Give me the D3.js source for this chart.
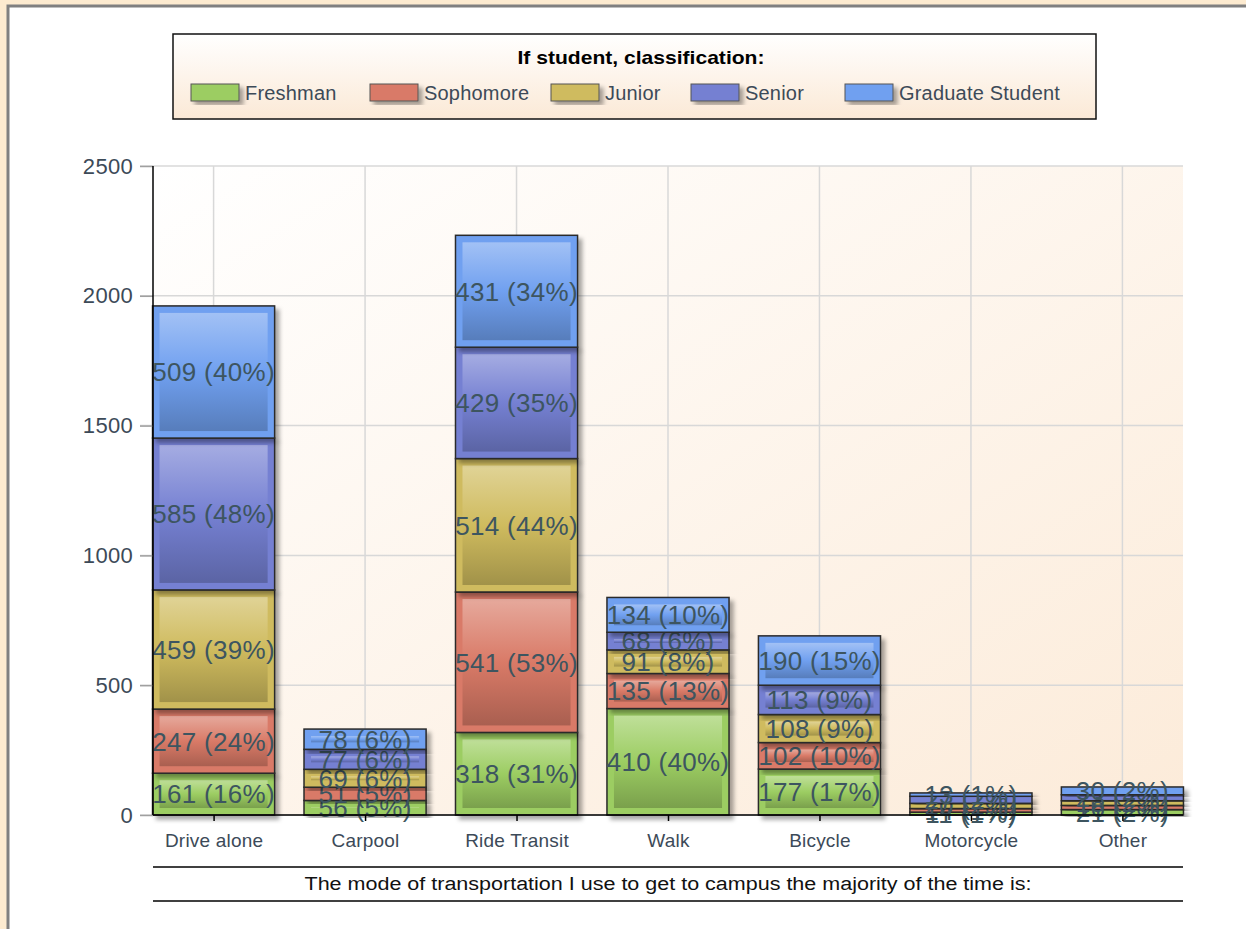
<!DOCTYPE html>
<html>
<head>
<meta charset="utf-8">
<script src="https://cdn.jsdelivr.net/npm/d3@7"></script>
<style>
  html, body { margin: 0; padding: 0; background: #fdebd0; }
  svg { display: block; font-family: Arial, "Liberation Sans", sans-serif; }
</style>
</head>
<body>
<div id="chart"></div>
<script>
// categorias del eje X
const modos = ["Drive alone", "Carpool", "Ride Transit", "Walk", "Bicycle", "Motorcycle", "Other"];
const clases = ["Freshman", "Sophomore", "Junior", "Senior", "Graduate Student"];

// valores por clase (mismo orden que modos)
const freshman  = [161, 56, 318, 410, 177, 11, 21];
const sophomore = [247, 51, 541, 135, 102, 14, 16];
const junior    = [459, 69, 514, 91, 108, 20, 18];
const senior    = [585, 77, 429, 68, 113, 27, 23];
const graduate  = [509, 78, 431, 134, 190, 13, 30];

// porcentajes tal como aparecen en las etiquetas
const pctFreshman  = [16, 5, 31, 40, 17, 1, 2];
const pctSophomore = [24, 5, 53, 13, 10, 1, 2];
const pctJunior    = [39, 6, 44, 8, 9, 2, 2];
const pctSenior    = [48, 6, 35, 6, 9, 2, 2];
const pctGraduate  = [40, 6, 34, 10, 15, 1, 2];

const yTicks = [0, 500, 1000, 1500, 2000, 2500];

const colores = ["#9ccd62", "#d97a67", "#cfbb5e", "#7580d2", "#70a0f0"];

const series = [freshman, sophomore, junior, senior, graduate];
const pcts = [pctFreshman, pctSophomore, pctJunior, pctSenior, pctGraduate];

const datos = modos.map((m, i) => {
    const row = { modo: m };
    clases.forEach((c, k) => { row[c] = series[k][i]; });
    return row;
});

const W = 1246, H = 929;
const svg = d3.select("#chart").append("svg")
    .attr("width", W).attr("height", H);

const defs = svg.append("defs");

// fondo del area de grafico
const bgGrad = defs.append("linearGradient").attr("id", "bg")
    .attr("x1", "0").attr("y1", "0").attr("x2", "1").attr("y2", "1");
bgGrad.append("stop").attr("offset", "0").attr("stop-color", "#ffffff");
bgGrad.append("stop").attr("offset", "1").attr("stop-color", "#fcebd9");

const legGrad = defs.append("linearGradient").attr("id", "legbg")
    .attr("x1", "0").attr("y1", "0").attr("x2", "0").attr("y2", "1");
legGrad.append("stop").attr("offset", "0").attr("stop-color", "#ffffff");
legGrad.append("stop").attr("offset", "1").attr("stop-color", "#fbe9d6");

// degradado interior de cada segmento
colores.forEach((c, k) => {
    const g = defs.append("linearGradient").attr("id", "seg" + k)
        .attr("x1", "0").attr("y1", "0").attr("x2", "0").attr("y2", "1");
    g.append("stop").attr("offset", "0").attr("stop-color", d3.interpolateRgb(c, "#ffffff")(0.35));
    g.append("stop").attr("offset", "0.5").attr("stop-color", c);
    g.append("stop").attr("offset", "1").attr("stop-color", d3.color(c).darker(0.7));
});

const sombra = defs.append("filter").attr("id", "sombra")
    .attr("x", "-10%").attr("y", "-10%").attr("width", "130%").attr("height", "130%");
sombra.append("feDropShadow").attr("dx", 4).attr("dy", 4).attr("stdDeviation", 2)
    .attr("flood-color", "#000").attr("flood-opacity", 0.35);

// marco exterior
svg.append("rect").attr("x", 0).attr("y", 0).attr("width", W).attr("height", H).attr("fill", "#fdebd0");
svg.append("rect").attr("x", 9).attr("y", 7).attr("width", W).attr("height", H)
    .attr("fill", "#ffffff");
svg.append("path").attr("d", `M8,${H} V6 H${W}`)
    .attr("fill", "none").attr("stroke", "#808080").attr("stroke-width", 3);

const margin = { top: 166, left: 153, right: W - 1183, bottom: H - 815 };
const width = W - margin.left - margin.right;
const height = H - margin.top - margin.bottom;

const g = svg.append("g").attr("transform", `translate(${margin.left},${margin.top})`);

const x = d3.scalePoint().domain(modos).range([0, width]).padding(0.4);
const step = x.step();
const barW = step * 0.806;

const y = d3.scaleLinear().domain([0, 2500]).range([height, 0]);

g.append("rect").attr("width", width).attr("height", height).attr("fill", "url(#bg)");

// rejilla
g.append("g").selectAll("line.h").data(yTicks).enter().append("line")
    .attr("x1", -13).attr("x2", width)
    .attr("y1", d => y(d)).attr("y2", d => y(d))
    .attr("stroke", "#d8d8d8").attr("stroke-width", 1.5);
g.append("g").selectAll("line.v").data(modos).enter().append("line")
    .attr("x1", d => x(d)).attr("x2", d => x(d))
    .attr("y1", 0).attr("y2", height)
    .attr("stroke", "#d8d8d8").attr("stroke-width", 1.5);

// barras apiladas
const stack = d3.stack().keys(clases)(datos);

const capas = g.selectAll(".capa").data(stack).enter().append("g")
    .attr("class", "capa");

capas.each(function(capa, k) {
    const sel = d3.select(this).selectAll("g").data(capa).enter().append("g");
    sel.append("rect")
        .attr("x", d => x(d.data.modo) - barW / 2)
        .attr("y", d => y(d[1]))
        .attr("width", barW)
        .attr("height", d => y(d[0]) - y(d[1]))
        .attr("fill", colores[k])
        .attr("stroke", "#2a2a2a").attr("stroke-width", 1.5)
        .attr("filter", "url(#sombra)");
    sel.append("rect")
        .attr("x", d => x(d.data.modo) - barW / 2 + 7)
        .attr("y", d => y(d[1]) + 7)
        .attr("width", barW - 14)
        .attr("height", d => Math.max(0, y(d[0]) - y(d[1]) - 14))
        .attr("fill", "url(#seg" + k + ")");
});

// ejes
const ejeY = g.append("g").call(d3.axisLeft(y).tickValues(yTicks).tickFormat(d3.format("d")).tickSize(13).tickPadding(7));
ejeY.select(".domain").remove();
ejeY.selectAll(".tick line").attr("stroke", "#a0a0a0").attr("stroke-width", 1.5);
ejeY.selectAll("text").attr("font-size", 22).attr("letter-spacing", "0.3").attr("fill", "#3c4a58");
g.append("line").attr("x1", 0).attr("x2", 0).attr("y1", 0).attr("y2", height)
    .attr("stroke", "#000").attr("stroke-width", 1.5);

const ejeX = g.append("g").attr("transform", `translate(0,${height})`)
    .call(d3.axisBottom(x).tickSize(6).tickPadding(13));
ejeX.select(".domain").remove();
ejeX.selectAll(".tick line").attr("stroke", "#000").attr("stroke-width", 1.5);
ejeX.selectAll("text").attr("font-size", 19).attr("letter-spacing", "0.2").attr("fill", "#3c4a58");
g.append("line").attr("x1", 0).attr("x2", width).attr("y1", height).attr("y2", height)
    .attr("stroke", "#000").attr("stroke-width", 1.5);

// etiquetas de valor
capas.each(function(capa, k) {
    d3.select(this).selectAll("text.val").data(capa).enter().append("text")
        .attr("class", "val")
        .attr("x", d => x(d.data.modo))
        .attr("y", d => (y(d[0]) + y(d[1])) / 2)
        .attr("dy", "0.36em")
        .attr("text-anchor", "middle")
        .attr("font-size", 26)
        .attr("letter-spacing", "0.3")
        .attr("fill", "#3d5560")
        .text((d, i) => `${series[k][i]} (${pcts[k][i]}%)`);
});

// titulo del eje X
g.append("line").attr("x1", 0).attr("x2", width).attr("y1", 52).attr("y2", 52)
    .attr("transform", `translate(0,${height})`)
    .attr("stroke", "#000").attr("stroke-width", 1.5);
g.append("line").attr("x1", 0).attr("x2", width).attr("y1", 86).attr("y2", 86)
    .attr("transform", `translate(0,${height})`)
    .attr("stroke", "#000").attr("stroke-width", 1.5);
g.append("text")
    .attr("x", width / 2).attr("y", height + 75)
    .attr("text-anchor", "middle")
    .attr("font-size", 18)
    .attr("textLength", 727)
    .attr("lengthAdjust", "spacingAndGlyphs")
    .attr("fill", "#111")
    .text("The mode of transportation I use to get to campus the majority of the time is:");

// leyenda
const leg = svg.append("g").attr("transform", "translate(173,34)");
leg.append("rect").attr("width", 923).attr("height", 85)
    .attr("fill", "url(#legbg)").attr("stroke", "#111").attr("stroke-width", 1.5);
leg.append("text").attr("x", 468).attr("y", 30)
    .attr("text-anchor", "middle").attr("font-weight", "bold")
    .attr("font-size", 19)
    .attr("textLength", 247).attr("lengthAdjust", "spacingAndGlyphs")
    .attr("fill", "#000")
    .text("If student, classification:");

const legX = [18, 197, 378, 518, 672];
const items = leg.selectAll(".item").data(clases).enter().append("g")
    .attr("transform", (d, i) => `translate(${legX[i]},50)`);
items.append("rect").attr("width", 48).attr("height", 17)
    .attr("fill", (d, i) => colores[i])
    .attr("stroke", "#555").attr("stroke-width", 1)
    .attr("filter", "url(#sombra)");
items.append("text").attr("x", 54).attr("y", 16)
    .attr("font-size", 20).attr("letter-spacing", "0.2").attr("fill", "#3c4a58")
    .text(d => d);
</script>
</body>
</html>
